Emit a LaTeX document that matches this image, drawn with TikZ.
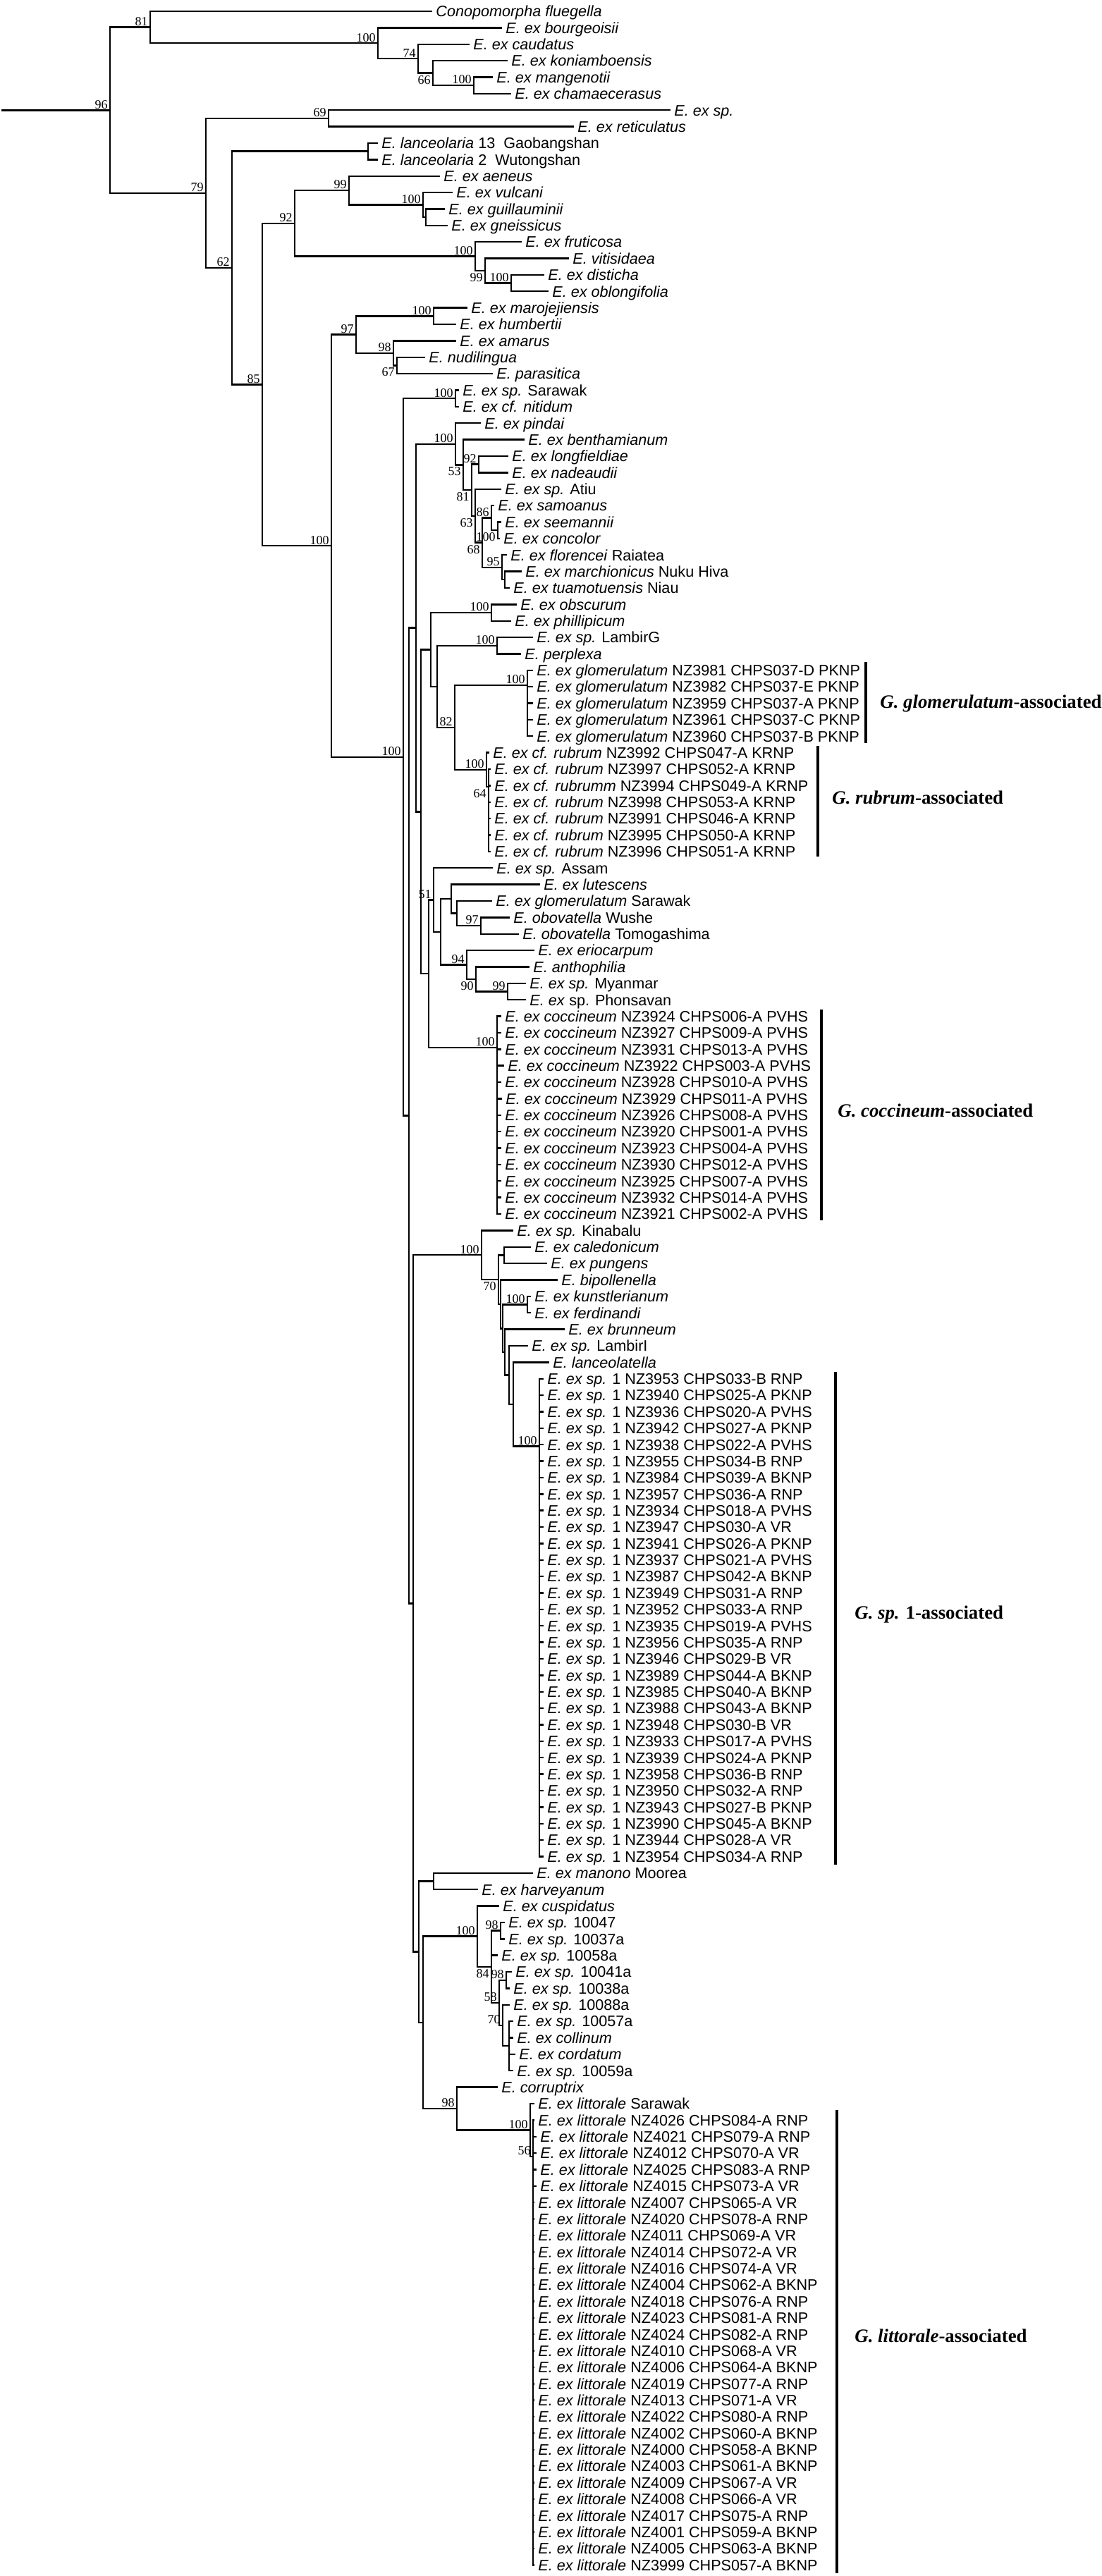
\documentclass[tikz,border=0pt]{standalone}
\usepackage{fontspec}
\setmainfont{Liberation Sans}
\newfontfamily\bsfont{Liberation Serif}
\usetikzlibrary{calc}

% leaf: name, row, tip x, label
\newcommand\lf[4]{\coordinate (#1) at (#3,#2);
  \node[leaf] (#1-t) at (#1) {#4};}
% clade: name, x, upper child, lower child
\newcommand\cl[4]{\path ($(#3)!.5!(#4)$) coordinate (#1-m);
  \coordinate (#1) at (#2,0 |- #1-m);
  \draw[branch] (#1) |- (#3) (#1) |- (#4);}
% clade drawn at a given row, many children
\newcommand\pl[4]{\coordinate (#1) at (#2,#3);
  \foreach \ch in {#4} {\draw[branch] (#1) |- (\ch);}}
% support values above / below the stem
\newcommand\bsa[2]{\node[bs, anchor=south east, yshift=0.8pt] (#1-bs) at (#1) {#2};}
\newcommand\bsb[2]{\node[bs, anchor=north east, yshift=-1.6pt] (#1-bs) at (#1) {#2};}

\begin{document}
\begin{tikzpicture}[x=0.5pt, y=-11.685pt,
    branch/.style={line width=1.2pt, line cap=rect},
    leaf/.style={anchor=base west, inner sep=0pt, xshift=3pt, yshift=-3.9pt,
      font=\fontsize{10.8}{12}\selectfont},
    bs/.style={inner sep=0pt, xshift=-1.5pt, font=\bsfont\fontsize{9}{9}\selectfont},
    bar/.style={line width=1.6pt},
    grp/.style={anchor=base west, inner sep=0pt, yshift=-4.4pt,
      font=\bsfont\bfseries\fontsize{13.4}{14}\selectfont}]
    \useasboundingbox (0,0.3154) rectangle (1563,156.67);

    % Leaves
    \lf{l1}{1}{612}{\textit{Conopomorpha fluegella}}
    \lf{l2}{2}{711}{\textit{E. ex bourgeoisii}}
    \lf{l3}{3}{665}{\textit{E. ex caudatus}}
    \lf{l4}{4}{719}{\textit{E. ex koniamboensis}}
    \lf{l5}{5}{698}{\textit{E. ex mangenotii}}
    \lf{l6}{6}{724}{\textit{E. ex chamaecerasus}}
    \lf{l7}{7}{950}{\textit{E. ex sp.}}
    \lf{l8}{8}{813}{\textit{E. ex reticulatus}}
    \lf{l9}{9}{535}{\textit{E. lanceolaria} 13\ \ Gaobangshan}
    \lf{l10}{10}{535}{\textit{E. lanceolaria} 2\ \ Wutongshan}
    \lf{l11}{11}{623}{\textit{E. ex aeneus}}
    \lf{l12}{12}{641}{\textit{E. ex vulcani}}
    \lf{l13}{13}{630}{\textit{E. ex guillauminii}}
    \lf{l14}{14}{634}{\textit{E. ex gneissicus}}
    \lf{l15}{15}{739}{\textit{E. ex fruticosa}}
    \lf{l16}{16}{806}{\textit{E. vitisidaea}}
    \lf{l17}{17}{771}{\textit{E. ex disticha}}
    \lf{l18}{18}{777}{\textit{E. ex oblongifolia}}
    \lf{l19}{19}{662}{\textit{E. ex marojejiensis}}
    \lf{l20}{20}{646}{\textit{E. ex humbertii}}
    \lf{l21}{21}{646}{\textit{E. ex amarus}}
    \lf{l22}{22}{602}{\textit{E. nudilingua}}
    \lf{l23}{23}{698}{\textit{E. parasitica}}
    \lf{l24}{24}{650}{\textit{E. ex sp.} Sarawak}
    \lf{l25}{25}{650}{\textit{E. ex cf. nitidum}}
    \lf{l26}{26}{681}{\textit{E. ex pindai}}
    \lf{l27}{27}{743}{\textit{E. ex benthamianum}}
    \lf{l28}{28}{720}{\textit{E. ex longfieldiae}}
    \lf{l29}{29}{720}{\textit{E. ex nadeaudii}}
    \lf{l30}{30}{710}{\textit{E. ex sp.} Atiu}
    \lf{l31}{31}{700}{\textit{E. ex samoanus}}
    \lf{l32}{32}{710}{\textit{E. ex seemannii}}
    \lf{l33}{33}{708}{\textit{E. ex concolor}}
    \lf{l34}{34}{718}{\textit{E. ex florencei} Raiatea}
    \lf{l35}{35}{739}{\textit{E. ex marchionicus} Nuku Hiva}
    \lf{l36}{36}{722}{\textit{E. ex tuamotuensis} Niau}
    \lf{l37}{37}{732}{\textit{E. ex obscurum}}
    \lf{l38}{38}{724}{\textit{E. ex phillipicum}}
    \lf{l39}{39}{755}{\textit{E. ex sp.} LambirG}
    \lf{l40}{40}{738}{\textit{E. perplexa}}
    \lf{l41}{41}{755}{\textit{E. ex glomerulatum} NZ3981 CHPS037-D PKNP}
    \lf{l42}{42}{755}{\textit{E. ex glomerulatum} NZ3982 CHPS037-E PKNP}
    \lf{l43}{43}{755}{\textit{E. ex glomerulatum} NZ3959 CHPS037-A PKNP}
    \lf{l44}{44}{755}{\textit{E. ex glomerulatum} NZ3961 CHPS037-C PKNP}
    \lf{l45}{45}{755}{\textit{E. ex glomerulatum} NZ3960 CHPS037-B PKNP}
    \lf{l46}{46}{693}{\textit{E. ex cf. rubrum} NZ3992 CHPS047-A KRNP}
    \lf{l47}{47}{695}{\textit{E. ex cf. rubrum} NZ3997 CHPS052-A KRNP}
    \lf{l48}{48}{695}{\textit{E. ex cf. rubrumm} NZ3994 CHPS049-A KRNP}
    \lf{l49}{49}{695}{\textit{E. ex cf. rubrum} NZ3998 CHPS053-A KRNP}
    \lf{l50}{50}{695}{\textit{E. ex cf. rubrum} NZ3991 CHPS046-A KRNP}
    \lf{l51}{51}{695}{\textit{E. ex cf. rubrum} NZ3995 CHPS050-A KRNP}
    \lf{l52}{52}{695}{\textit{E. ex cf. rubrum} NZ3996 CHPS051-A KRNP}
    \lf{l53}{53}{698}{\textit{E. ex sp.} Assam}
    \lf{l54}{54}{765}{\textit{E. ex lutescens}}
    \lf{l55}{55}{697}{\textit{E. ex glomerulatum} Sarawak}
    \lf{l56}{56}{722}{\textit{E. obovatella} Wushe}
    \lf{l57}{57}{735}{\textit{E. obovatella} Tomogashima}
    \lf{l58}{58}{757}{\textit{E. ex eriocarpum}}
    \lf{l59}{59}{750}{\textit{E. anthophilia}}
    \lf{l60}{60}{745}{\textit{E. ex sp.} Myanmar}
    \lf{l61}{61}{745}{\textit{E. ex} sp. Phonsavan}
    \lf{l62}{62}{710}{\textit{E. ex coccineum} NZ3924 CHPS006-A PVHS}
    \lf{l63}{63}{710}{\textit{E. ex coccineum} NZ3927 CHPS009-A PVHS}
    \lf{l64}{64}{710}{\textit{E. ex coccineum} NZ3931 CHPS013-A PVHS}
    \lf{l65}{65}{714}{\textit{E. ex coccineum} NZ3922 CHPS003-A PVHS}
    \lf{l66}{66}{710}{\textit{E. ex coccineum} NZ3928 CHPS010-A PVHS}
    \lf{l67}{67}{711}{\textit{E. ex coccineum} NZ3929 CHPS011-A PVHS}
    \lf{l68}{68}{710}{\textit{E. ex coccineum} NZ3926 CHPS008-A PVHS}
    \lf{l69}{69}{710}{\textit{E. ex coccineum} NZ3920 CHPS001-A PVHS}
    \lf{l70}{70}{710}{\textit{E. ex coccineum} NZ3923 CHPS004-A PVHS}
    \lf{l71}{71}{710}{\textit{E. ex coccineum} NZ3930 CHPS012-A PVHS}
    \lf{l72}{72}{710}{\textit{E. ex coccineum} NZ3925 CHPS007-A PVHS}
    \lf{l73}{73}{710}{\textit{E. ex coccineum} NZ3932 CHPS014-A PVHS}
    \lf{l74}{74}{710}{\textit{E. ex coccineum} NZ3921 CHPS002-A PVHS}
    \lf{l75}{75}{727}{\textit{E. ex sp.} Kinabalu}
    \lf{l76}{76}{752}{\textit{E. ex caledonicum}}
    \lf{l77}{77}{775}{\textit{E. ex pungens}}
    \lf{l78}{78}{790}{\textit{E. bipollenella}}
    \lf{l79}{79}{752}{\textit{E. ex kunstlerianum}}
    \lf{l80}{80}{752}{\textit{E. ex ferdinandi}}
    \lf{l81}{81}{800}{\textit{E. ex brunneum}}
    \lf{l82}{82}{748}{\textit{E. ex sp.} LambirI}
    \lf{l83}{83}{778}{\textit{E. lanceolatella}}
    \lf{l84}{84}{770}{\textit{E. ex sp.} 1 NZ3953 CHPS033-B RNP}
    \lf{l85}{85}{770}{\textit{E. ex sp.} 1 NZ3940 CHPS025-A PKNP}
    \lf{l86}{86}{770}{\textit{E. ex sp.} 1 NZ3936 CHPS020-A PVHS}
    \lf{l87}{87}{770}{\textit{E. ex sp.} 1 NZ3942 CHPS027-A PKNP}
    \lf{l88}{88}{770}{\textit{E. ex sp.} 1 NZ3938 CHPS022-A PVHS}
    \lf{l89}{89}{770}{\textit{E. ex sp.} 1 NZ3955 CHPS034-B RNP}
    \lf{l90}{90}{770}{\textit{E. ex sp.} 1 NZ3984 CHPS039-A BKNP}
    \lf{l91}{91}{770}{\textit{E. ex sp.} 1 NZ3957 CHPS036-A RNP}
    \lf{l92}{92}{770}{\textit{E. ex sp.} 1 NZ3934 CHPS018-A PVHS}
    \lf{l93}{93}{770}{\textit{E. ex sp.} 1 NZ3947 CHPS030-A VR}
    \lf{l94}{94}{770}{\textit{E. ex sp.} 1 NZ3941 CHPS026-A PKNP}
    \lf{l95}{95}{770}{\textit{E. ex sp.} 1 NZ3937 CHPS021-A PVHS}
    \lf{l96}{96}{770}{\textit{E. ex sp.} 1 NZ3987 CHPS042-A BKNP}
    \lf{l97}{97}{770}{\textit{E. ex sp.} 1 NZ3949 CHPS031-A RNP}
    \lf{l98}{98}{770}{\textit{E. ex sp.} 1 NZ3952 CHPS033-A RNP}
    \lf{l99}{99}{770}{\textit{E. ex sp.} 1 NZ3935 CHPS019-A PVHS}
    \lf{l100}{100}{770}{\textit{E. ex sp.} 1 NZ3956 CHPS035-A RNP}
    \lf{l101}{101}{770}{\textit{E. ex sp.} 1 NZ3946 CHPS029-B VR}
    \lf{l102}{102}{770}{\textit{E. ex sp.} 1 NZ3989 CHPS044-A BKNP}
    \lf{l103}{103}{770}{\textit{E. ex sp.} 1 NZ3985 CHPS040-A BKNP}
    \lf{l104}{104}{770}{\textit{E. ex sp.} 1 NZ3988 CHPS043-A BKNP}
    \lf{l105}{105}{770}{\textit{E. ex sp.} 1 NZ3948 CHPS030-B VR}
    \lf{l106}{106}{770}{\textit{E. ex sp.} 1 NZ3933 CHPS017-A PVHS}
    \lf{l107}{107}{770}{\textit{E. ex sp.} 1 NZ3939 CHPS024-A PKNP}
    \lf{l108}{108}{770}{\textit{E. ex sp.} 1 NZ3958 CHPS036-B RNP}
    \lf{l109}{109}{770}{\textit{E. ex sp.} 1 NZ3950 CHPS032-A RNP}
    \lf{l110}{110}{770}{\textit{E. ex sp.} 1 NZ3943 CHPS027-B PKNP}
    \lf{l111}{111}{770}{\textit{E. ex sp.} 1 NZ3990 CHPS045-A BKNP}
    \lf{l112}{112}{770}{\textit{E. ex sp.} 1 NZ3944 CHPS028-A VR}
    \lf{l113}{113}{770}{\textit{E. ex sp.} 1 NZ3954 CHPS034-A RNP}
    \lf{l114}{114}{755}{\textit{E. ex manono} Moorea}
    \lf{l115}{115}{677}{\textit{E. ex harveyanum}}
    \lf{l116}{116}{707}{\textit{E. ex cuspidatus}}
    \lf{l117}{117}{715}{\textit{E. ex sp.} 10047}
    \lf{l118}{118}{715}{\textit{E. ex sp.} 10037a}
    \lf{l119}{119}{705}{\textit{E. ex sp.} 10058a}
    \lf{l120}{120}{725}{\textit{E. ex sp.} 10041a}
    \lf{l121}{121}{722}{\textit{E. ex sp.} 10038a}
    \lf{l122}{122}{722}{\textit{E. ex sp.} 10088a}
    \lf{l123}{123}{727}{\textit{E. ex sp.} 10057a}
    \lf{l124}{124}{727}{\textit{E. ex collinum}}
    \lf{l125}{125}{730}{\textit{E. ex cordatum}}
    \lf{l126}{126}{727}{\textit{E. ex sp.} 10059a}
    \lf{l127}{127}{705}{\textit{E. corruptrix}}
    \lf{l128}{128}{757}{\textit{E. ex littorale} Sarawak}
    \lf{l129}{129}{757}{\textit{E. ex littorale} NZ4026 CHPS084-A RNP}
    \lf{l130}{130}{760}{\textit{E. ex littorale} NZ4021 CHPS079-A RNP}
    \lf{l131}{131}{760}{\textit{E. ex littorale} NZ4012 CHPS070-A VR}
    \lf{l132}{132}{760}{\textit{E. ex littorale} NZ4025 CHPS083-A RNP}
    \lf{l133}{133}{760}{\textit{E. ex littorale} NZ4015 CHPS073-A VR}
    \lf{l134}{134}{757}{\textit{E. ex littorale} NZ4007 CHPS065-A VR}
    \lf{l135}{135}{757}{\textit{E. ex littorale} NZ4020 CHPS078-A RNP}
    \lf{l136}{136}{757}{\textit{E. ex littorale} NZ4011 CHPS069-A VR}
    \lf{l137}{137}{757}{\textit{E. ex littorale} NZ4014 CHPS072-A VR}
    \lf{l138}{138}{757}{\textit{E. ex littorale} NZ4016 CHPS074-A VR}
    \lf{l139}{139}{757}{\textit{E. ex littorale} NZ4004 CHPS062-A BKNP}
    \lf{l140}{140}{757}{\textit{E. ex littorale} NZ4018 CHPS076-A RNP}
    \lf{l141}{141}{757}{\textit{E. ex littorale} NZ4023 CHPS081-A RNP}
    \lf{l142}{142}{757}{\textit{E. ex littorale} NZ4024 CHPS082-A RNP}
    \lf{l143}{143}{757}{\textit{E. ex littorale} NZ4010 CHPS068-A VR}
    \lf{l144}{144}{757}{\textit{E. ex littorale} NZ4006 CHPS064-A BKNP}
    \lf{l145}{145}{757}{\textit{E. ex littorale} NZ4019 CHPS077-A RNP}
    \lf{l146}{146}{757}{\textit{E. ex littorale} NZ4013 CHPS071-A VR}
    \lf{l147}{147}{757}{\textit{E. ex littorale} NZ4022 CHPS080-A RNP}
    \lf{l148}{148}{757}{\textit{E. ex littorale} NZ4002 CHPS060-A BKNP}
    \lf{l149}{149}{757}{\textit{E. ex littorale} NZ4000 CHPS058-A BKNP}
    \lf{l150}{150}{757}{\textit{E. ex littorale} NZ4003 CHPS061-A BKNP}
    \lf{l151}{151}{757}{\textit{E. ex littorale} NZ4009 CHPS067-A VR}
    \lf{l152}{152}{757}{\textit{E. ex littorale} NZ4008 CHPS066-A VR}
    \lf{l153}{153}{757}{\textit{E. ex littorale} NZ4017 CHPS075-A RNP}
    \lf{l154}{154}{757}{\textit{E. ex littorale} NZ4001 CHPS059-A BKNP}
    \lf{l155}{155}{757}{\textit{E. ex littorale} NZ4005 CHPS063-A BKNP}
    \lf{l156}{156}{757}{\textit{E. ex littorale} NZ3999 CHPS057-A BKNP}

    % Outgroup part
    \cl{F100}{672}{l5}{l6}
    \cl{E66}{614}{l4}{F100}
    \cl{D74}{593}{l3}{E66}
    \cl{C100}{536}{l2}{D74}
    \cl{B81}{213}{l1}{C100}
    \cl{H69}{466}{l7}{l8}
    \cl{lan}{522}{l9}{l10}
    \cl{Q}{604}{l13}{l14}
    \cl{P100}{600}{l12}{Q}
    \cl{N99}{495}{l11}{P100}
    \cl{S100}{725}{l17}{l18}
    \cl{R99}{688}{l16}{S100}
    \cl{O100}{674}{l15}{R99}
    \cl{L92}{418}{N99}{O100}
    \cl{V100}{615}{l19}{l20}
    \cl{X67}{563}{l22}{l23}
    \cl{W98}{558}{l21}{X67}
    \cl{T97}{505}{V100}{W98}

    % Upper ingroup
    \cl{sar}{646}{l24}{l25}
    \cl{N92}{679}{l28}{l29}
    \cl{N100s}{706}{l32}{l33}
    \cl{N86}{697}{l31}{N100s}
    \cl{mt}{716}{l35}{l36}
    \cl{N95}{712}{l34}{mt}
    \cl{N68}{684}{N86}{N95}
    \cl{N63}{674}{l30}{N68}
    \cl{N81}{669}{N92}{N63}
    \cl{N53}{657}{l27}{N81}
    \cl{pin}{646}{l26}{N53}
    \cl{obs}{697}{l37}{l38}
    \cl{LP}{705}{l39}{l40}
    \pl{G100}{748}{41.9}{l41,l42,l43,l44,l45}
    \pl{R64}{693}{48.07}{l47,l48,l49,l50,l51,l52}
    \cl{R100}{690}{l46}{R64}
    \cl{N82}{645}{G100}{R100}
    \cl{Q1}{620}{LP}{N82}
    \cl{Q2}{611}{obs}{Q1}
    \cl{N97}{682}{l56}{l57}
    \cl{N648}{648}{l55}{N97}
    \cl{N640}{640}{l54}{N648}
    \cl{N99m}{720}{l60}{l61}
    \cl{N90}{675}{l59}{N99m}
    \cl{N94}{662}{l58}{N90}
    \cl{N625}{625}{N640}{N94}
    \cl{N51}{615}{l53}{N625}
    \pl{coc}{705}{63.9}{l62,l63,l64,l65,l66,l67,l68,l69,l70,l71,l72,l73,l74}
    \cl{Q4}{608}{N51}{coc}
    \cl{Q3}{597}{Q2}{Q4}
    \cl{QA}{590}{pin}{Q3}

    % Lower ingroup
    \cl{CP}{715}{l76}{l77}
    \cl{KF}{748}{l79}{l80}
    \pl{SP1}{765}{88.1}{l84,l85,l86,l87,l88,l89,l90,l91,l92,l93,l94,l95,l96,l97,l98,l99,l100,l101,l102,l103,l104,l105,l106,l107,l108,l109,l110,l111,l112,l113}
    \cl{LL}{728}{l83}{SP1}
    \cl{N722}{722}{l82}{LL}
    \cl{B}{716}{l81}{N722}
    \cl{Y}{713}{KF}{B}
    \cl{X}{710}{l78}{Y}
    \cl{K70}{707}{CP}{X}
    \cl{K100}{683}{l75}{K70}
    \cl{MH}{615}{l114}{l115}
    \cl{N98b}{710}{l117}{l118}
    \cl{N98c}{718}{l120}{l121}
    \cl{cc}{722}{l123}{l126}
    \draw[branch] (cc) |- (l124) (cc) |- (l125);
    \cl{N70}{713}{l122}{cc}
    \cl{N58}{708}{N98c}{N70}
    \cl{N84}{697}{N98b}{N58}
    \draw[branch] (N84) |- (l119);
    \cl{C100b}{677}{l116}{N84}
    \pl{N56}{756}{131.2}{l129,l130,l131,l132,l133,l134,l135,l136,l137,l138,l139,l140,l141,l142,l143,l144,l145,l146,l147,l148,l149,l150,l151,l152,l153,l154,l155,l156}
    \cl{L100}{752}{l128}{N56}
    \cl{N98}{648}{l127}{L100}
    \cl{W2}{600}{C100b}{N98}
    \cl{W}{594}{MH}{W2}
    \cl{Z}{586}{K100}{W}
    \cl{V}{580}{QA}{Z}
    \cl{U100}{572}{sar}{V}

    % Backbone
    \cl{M100}{470}{T97}{U100}
    \cl{K85}{372}{L92}{M100}
    \cl{I62}{329}{lan}{K85}
    \cl{G79}{292}{H69}{I62}
    \cl{A96}{156}{B81}{G79}
    \coordinate (root) at (3,0 |- A96);
    \draw[branch] (root) -- (A96);

    % Support values
    \bsa{A96}{96} \bsa{B81}{81} \bsa{C100}{100} \bsa{D74}{74} \bsb{E66}{66}
    \bsa{F100}{100} \bsa{G79}{79} \bsa{H69}{69} \bsa{I62}{62} \bsa{N99}{99}
    \bsa{P100}{100} \bsa{L92}{92} \bsa{O100}{100} \bsb{R99}{99} \bsa{S100}{100}
    \bsa{K85}{85} \bsa{V100}{100} \bsa{T97}{97} \bsa{W98}{98} \bsb{X67}{67}
    \bsa{M100}{100} \bsa{sar}{100} \bsa{pin}{100} \bsb{N53}{53} \bsa{N92}{92}
    \bsb{N81}{81} \bsa{N86}{86} \bsb{N63}{63} \bsb{N100s}{100} \bsb{N68}{68}
    \bsa{N95}{95} \bsa{obs}{100} \bsa{LP}{100} \bsa{G100}{100} \bsa{N82}{82}
    \bsa{R100}{100} \bsb{R64}{64} \bsa{N51}{51} \bsa{N97}{97} \bsa{N94}{94}
    \bsb{N90}{90} \bsa{N99m}{99} \bsa{coc}{100} \bsa{U100}{100} \bsa{K100}{100}
    \bsb{K70}{70} \bsa{KF}{100} \bsa{SP1}{100} \bsa{C100b}{100} \bsa{N98b}{98}
    \bsb{N84}{84} \bsa{N98c}{98} \bsa{N58}{58} \bsa{N70}{70} \bsa{N98}{98}
    \bsa{L100}{100} \bsa{N56}{56}

    % Host groups
    \coordinate (gl-a) at (1228,40.5); \coordinate (gl-b) at (1228,45.4);
    \draw[bar] (gl-a) -- (gl-b);
    \node[grp] (gl-l) at (1248,42.9) {\textit{G. glomerulatum}-associated};
    \coordinate (ru-a) at (1160,45.6); \coordinate (ru-b) at (1160,52.3);
    \draw[bar] (ru-a) -- (ru-b);
    \node[grp] (ru-l) at (1180,48.75) {\textit{G. rubrum}-associated};
    \coordinate (co-a) at (1165,61.6); \coordinate (co-b) at (1165,74.4);
    \draw[bar] (co-a) -- (co-b);
    \node[grp] (co-l) at (1188,67.75) {\textit{G. coccineum}-associated};
    \coordinate (sp-a) at (1185,83.6); \coordinate (sp-b) at (1185,113.5);
    \draw[bar] (sp-a) -- (sp-b);
    \node[grp] (sp-l) at (1212,98.2) {\textit{G. sp.} 1-associated};
    \coordinate (li-a) at (1187,128.4); \coordinate (li-b) at (1187,156.5);
    \draw[bar] (li-a) -- (li-b);
    \node[grp] (li-l) at (1212,142.1) {\textit{G. littorale}-associated};
\end{tikzpicture}
\end{document}
